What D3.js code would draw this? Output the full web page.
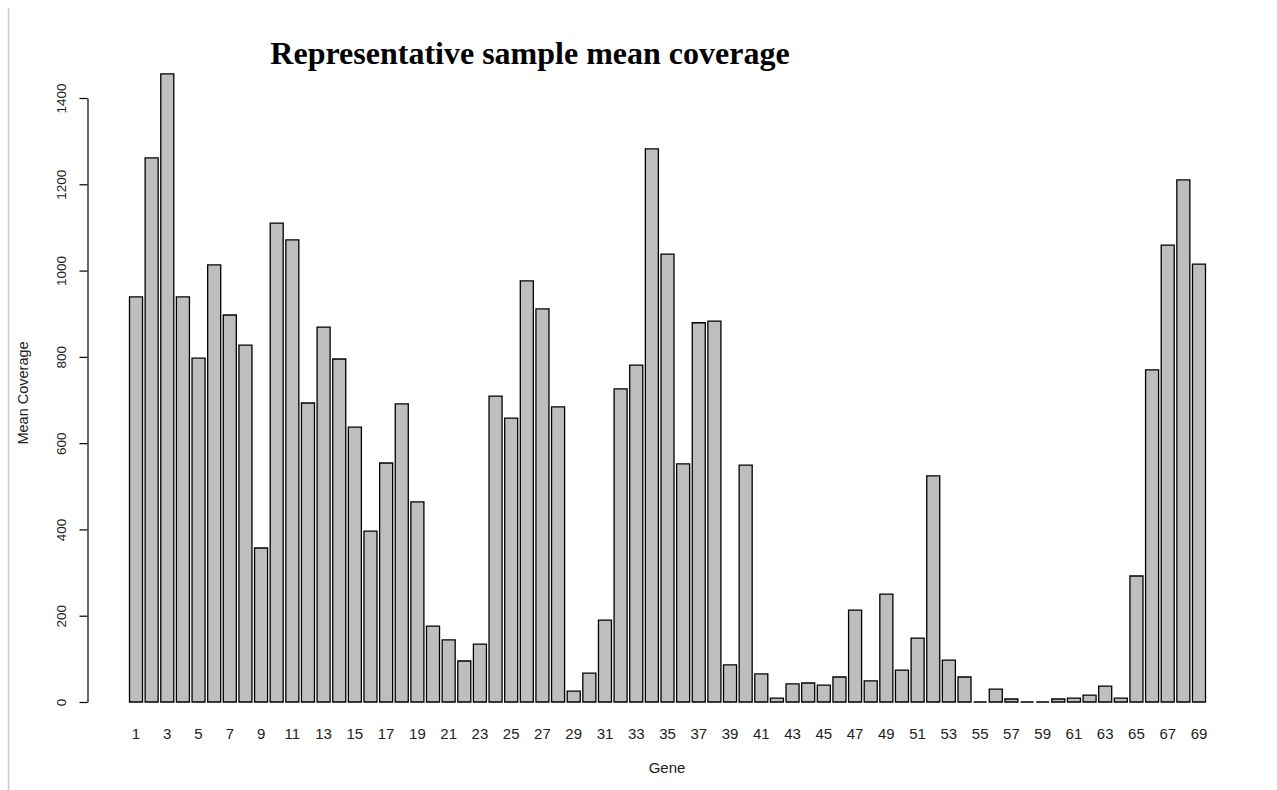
<!DOCTYPE html>
<html>
<head>
<meta charset="utf-8">
<script src="https://cdn.jsdelivr.net/npm/d3@7"></script>
<style>
  html, body { margin: 0; padding: 0; background: #fff; }
  svg { display: block; }
</style>
</head>
<body>
<svg id="chart" width="1277" height="790"></svg>
<script>
const genes = d3.range(1, 70);
const coverage = [
  939, 1261, 1456, 939, 797, 1013, 897, 827, 357, 1110,
  1071, 693, 869, 795, 637, 396, 554, 691, 464, 176,
  144, 95, 134, 709, 658, 976, 911, 684, 25, 67,
  190, 726, 781, 1282, 1038, 552, 879, 883, 86, 549,
  65, 9, 42, 44, 39, 58, 213, 49, 250, 74,
  148, 524, 97, 58, 0, 30, 7, 0, 0, 7,
  9, 16, 37, 9, 292, 770, 1059, 1210, 1015
];
const yTicks = [0, 200, 400, 600, 800, 1000, 1200, 1400];
const xTickLabels = genes.filter(g => g % 2 === 1);

const titleText = "Representative sample mean coverage";
const xTitle = "Gene";
const yTitle = "Mean Coverage";

const svg = d3.select("#chart");

// left gray frame line
svg.append("line")
  .attr("x1", 8.5).attr("x2", 8.5).attr("y1", 8).attr("y2", 790)
  .attr("stroke", "#c8c8c8").attr("stroke-width", 1.5);

const x = d3.scaleBand()
  .domain(genes)
  .range([128.2, 1206.8])
  .paddingInner(1 / 6)
  .paddingOuter(1 / 12);

const y = d3.scaleLinear().domain([0, 1400]).range([702, 98]);

// bars as paths so zero-height bars still show as a line
svg.append("g").selectAll("path")
  .data(genes.map((g, i) => ({ g, v: coverage[i] })))
  .join("path")
  .attr("d", d => {
    const x0 = x(d.g), w = x.bandwidth();
    const y0 = y(0), y1 = y(d.v);
    return `M${x0},${y0}V${y1}H${x0 + w}V${y0}Z`;
  })
  .attr("fill", "#bebebe")
  .attr("stroke", "#000")
  .attr("stroke-width", 1.3);

// y axis
const yAxis = d3.axisLeft(y).tickValues(yTicks).tickFormat(d3.format("d"))
  .tickSize(8).tickPadding(12).tickSizeOuter(0);
const gy = svg.append("g").attr("transform", "translate(87.5,0)").call(yAxis);
gy.select(".domain").attr("stroke", "#000").attr("stroke-width", 1.2);
gy.selectAll(".tick line").attr("stroke", "#000").attr("stroke-width", 1.2);
gy.selectAll(".tick text")
  .attr("font-family", "Liberation Sans, Arial, sans-serif")
  .attr("font-size", 13.5)
  .attr("fill", "#222")
  .attr("text-anchor", "middle")
  .attr("x", 0).attr("y", 0).attr("dy", 0)
  .attr("transform", "translate(-25,0) rotate(-90)")
  .attr("dominant-baseline", "middle");

// x tick labels (no axis line)
const xAxis = d3.axisBottom(x).tickValues(xTickLabels).tickSize(0).tickPadding(0);
const gx = svg.append("g").attr("transform", "translate(0,728)").call(xAxis);
gx.select(".domain").remove();
gx.selectAll(".tick text")
  .attr("font-family", "Liberation Sans, Arial, sans-serif")
  .attr("font-size", 15)
  .attr("fill", "#222")
  .attr("dy", "0.71em");

// axis titles
svg.append("text")
  .attr("x", 667).attr("y", 773)
  .attr("text-anchor", "middle")
  .attr("font-family", "Liberation Sans, Arial, sans-serif")
  .attr("font-size", 15).attr("fill", "#222")
  .text(xTitle);

svg.append("text")
  .attr("transform", "translate(28,393) rotate(-90)")
  .attr("text-anchor", "middle")
  .attr("font-family", "Liberation Sans, Arial, sans-serif")
  .attr("font-size", 14.5).attr("fill", "#222")
  .text(yTitle);

// title
svg.append("text")
  .attr("x", 530).attr("y", 64)
  .attr("text-anchor", "middle")
  .attr("font-family", "Liberation Serif, Times New Roman, serif")
  .attr("font-weight", "bold")
  .attr("font-size", 32).attr("fill", "#000")
  .text(titleText);
</script>
</body>
</html>
